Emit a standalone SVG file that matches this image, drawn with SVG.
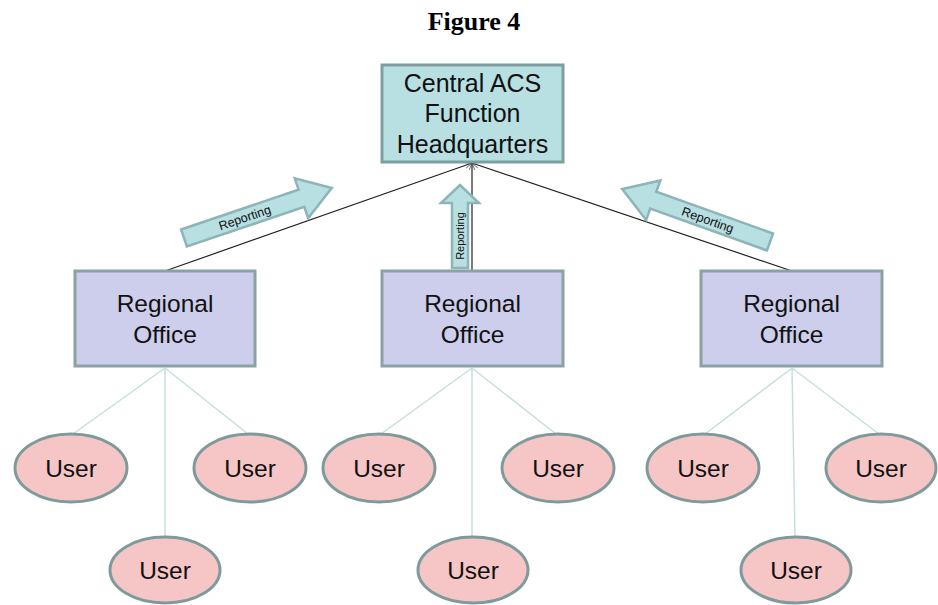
<svg xmlns="http://www.w3.org/2000/svg" width="938" height="605" viewBox="0 0 938 605">
<defs>
<marker id="open" viewBox="0 0 10 10" refX="10" refY="5" markerWidth="7" markerHeight="7" orient="auto" markerUnits="userSpaceOnUse">
<path d="M0,1 L10,5 L0,9" fill="none" stroke="#333" stroke-width="1"/>
</marker>
<style>
.t{font-family:"Liberation Sans",Arial,sans-serif;fill:#111;text-anchor:middle}
.hq{fill:#b8dfe2;stroke:#7f9e9f;stroke-width:3}
.ro{fill:#cdcdec;stroke:#8aa2a2;stroke-width:3}
.us{fill:#f6c6c6;stroke:#7f9a9a;stroke-width:3}
.ba{fill:#b8dfe2;stroke:#8db4b7;stroke-width:2.5}
.up{stroke:#222;stroke-width:1.2;fill:none}
.dn{stroke:#c8dede;stroke-width:1.5;fill:none}
</style>
</defs>
<rect width="938" height="605" fill="#fff"/>
<text x="474" y="30" text-anchor="middle" font-family="Liberation Serif,Times New Roman,serif" font-weight="bold" font-size="26" fill="#000">Figure 4</text>

<g id="connectors">
<line class="up" x1="165" y1="271" x2="472" y2="163" marker-end="url(#open)"/>
<line class="up" x1="472" y1="271" x2="472" y2="163" marker-end="url(#open)"/>
<line class="up" x1="792" y1="271" x2="472" y2="163" marker-end="url(#open)"/>
<line class="dn" x1="165" y1="368" x2="73" y2="434"/>
<line class="dn" x1="165" y1="368" x2="248" y2="434"/>
<line class="dn" x1="165" y1="368" x2="165" y2="537"/>
<line class="dn" x1="472" y1="368" x2="381" y2="434"/>
<line class="dn" x1="472" y1="368" x2="556" y2="434"/>
<line class="dn" x1="472" y1="368" x2="472" y2="537"/>
<line class="dn" x1="792" y1="368" x2="705" y2="434"/>
<line class="dn" x1="792" y1="368" x2="879" y2="434"/>
<line class="dn" x1="792" y1="368" x2="795" y2="537"/>
</g>

<g id="rep-left" transform="translate(184,238) rotate(-18.7)">
<path class="ba" d="M0,-9 L124,-9 L124,-21 L156,0 L124,21 L124,9 L0,9 Z"/>
<text class="t" x="64" y="4.5" font-size="12.5">Reporting</text>
</g>
<g id="rep-mid" transform="translate(460,268) rotate(-90)">
<path class="ba" d="M0,-8 L65,-8 L65,-19 L83,0 L65,19 L65,8 L0,8 Z"/>
<text class="t" x="32" y="4" font-size="11">Reporting</text>
</g>
<g id="rep-right" transform="translate(770,242) rotate(-160.3)">
<path class="ba" d="M0,-9 L124,-9 L124,-21 L157,0 L124,21 L124,9 L0,9 Z"/>
<text class="t" x="66" y="4.5" font-size="12.5" transform="rotate(180 66 0)">Reporting</text>
</g>

<g id="hq">
<rect class="hq" x="382" y="65" width="181" height="97"/>
<text class="t" x="472.5" y="92" font-size="25">Central ACS</text>
<text class="t" x="472.5" y="122" font-size="25">Function</text>
<text class="t" x="472.5" y="153" font-size="25">Headquarters</text>
</g>

<g id="ro1">
<rect class="ro" x="75" y="271" width="180" height="95"/>
<text class="t" x="165" y="312" font-size="24.5">Regional</text>
<text class="t" x="165" y="343" font-size="24.5">Office</text>
</g>
<g id="ro2">
<rect class="ro" x="382" y="271" width="181" height="95"/>
<text class="t" x="472.5" y="312" font-size="24.5">Regional</text>
<text class="t" x="472.5" y="343" font-size="24.5">Office</text>
</g>
<g id="ro3">
<rect class="ro" x="701" y="271" width="181" height="95"/>
<text class="t" x="791.5" y="312" font-size="24.5">Regional</text>
<text class="t" x="791.5" y="343" font-size="24.5">Office</text>
</g>

<g id="u1"><ellipse class="us" cx="71" cy="468" rx="56" ry="34"/><text class="t" x="71" y="477" font-size="24.5">User</text></g>
<g id="u2"><ellipse class="us" cx="250" cy="468" rx="56" ry="34"/><text class="t" x="250" y="477" font-size="24.5">User</text></g>
<g id="u3"><ellipse class="us" cx="165" cy="570" rx="55" ry="33"/><text class="t" x="165" y="579" font-size="24.5">User</text></g>
<g id="u4"><ellipse class="us" cx="379" cy="468" rx="56" ry="34"/><text class="t" x="379" y="477" font-size="24.5">User</text></g>
<g id="u5"><ellipse class="us" cx="558" cy="468" rx="56" ry="34"/><text class="t" x="558" y="477" font-size="24.5">User</text></g>
<g id="u6"><ellipse class="us" cx="473" cy="570" rx="55" ry="33"/><text class="t" x="473" y="579" font-size="24.5">User</text></g>
<g id="u7"><ellipse class="us" cx="703" cy="468" rx="56" ry="34"/><text class="t" x="703" y="477" font-size="24.5">User</text></g>
<g id="u8"><ellipse class="us" cx="881" cy="468" rx="55" ry="34"/><text class="t" x="881" y="477" font-size="24.5">User</text></g>
<g id="u9"><ellipse class="us" cx="796" cy="570" rx="55" ry="33"/><text class="t" x="796" y="579" font-size="24.5">User</text></g>
</svg>
